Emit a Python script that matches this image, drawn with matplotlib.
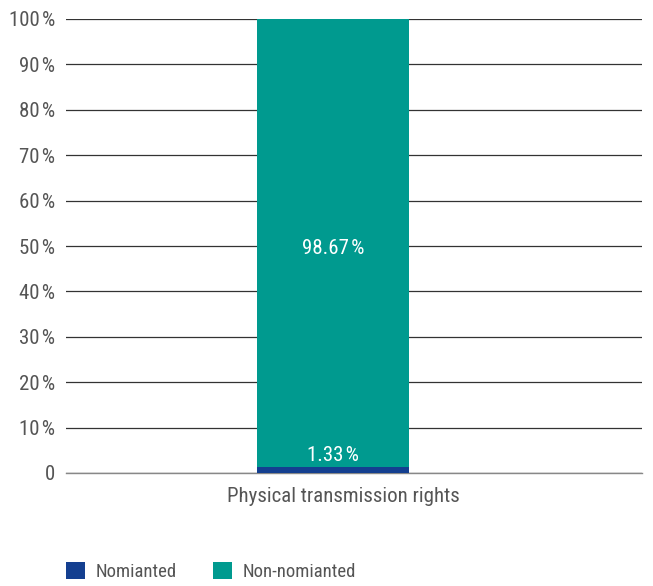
import matplotlib.pyplot as plt
import matplotlib.transforms as mtransforms

plt.rcParams['font.family'] = ['Roboto Condensed', 'Roboto', 'DejaVu Sans']

# data
categories = ["Physical transmission rights"]
nominated = [1.33]
non_nominated = [98.67]
series_names = ["Nomianted", "Non-nomianted"]
colors = ["#143f90", "#009a8f"]
yticks = [0, 10, 20, 30, 40, 50, 60, 70, 80, 90, 100]
ytick_labels = ["0"] + [f"{v}\u200a%" for v in yticks[1:]]

fig = plt.figure(figsize=(6.53, 5.86), dpi=100)
ax = fig.add_axes([66 / 653, 113 / 586, 576 / 653, 454 / 586])

x = [0]
bw = 0.264
ax.bar(x, nominated, width=bw, color=colors[0], label=series_names[0], zorder=3)
ax.bar(x, non_nominated, width=bw, bottom=nominated, color=colors[1],
       label=series_names[1], zorder=3)

fs = 15
ax.text(0, nominated[0] + 3.0, f"{nominated[0]:.2f}\u200a%", ha="center",
        va="center_baseline", color="white", fontsize=fs)
ax.text(0, (nominated[0] + non_nominated[0]) / 2, f"{non_nominated[0]:.2f}\u200a%",
        ha="center", va="center_baseline", color="white", fontsize=fs)

ax.set_xlim(-0.4635, 0.5365)
ax.set_ylim(0, 100)
ax.set_yticks(yticks)
ax.set_yticklabels(ytick_labels)
ax.set_xticks(x)
ax.set_xticklabels(categories)
ax.tick_params(axis="y", length=0, pad=8, labelsize=fs, labelcolor="#555555")
ax.tick_params(axis="x", length=0, pad=10, labelsize=fs, labelcolor="#555555")

# category label sits a bit right of the bar centre in the original
shift = mtransforms.ScaledTranslation(10 / 100, 0, fig.dpi_scale_trans)
for lbl in ax.get_xticklabels():
    lbl.set_transform(lbl.get_transform() + shift)

ax.yaxis.grid(True, color="#333333", linewidth=0.9, zorder=0)
for s in ["top", "right", "left"]:
    ax.spines[s].set_visible(False)
ax.spines["bottom"].set_color("#888888")
ax.spines["bottom"].set_linewidth(1.0)

ax.legend(loc="upper left", bbox_to_anchor=(-0.013, -0.18), ncol=2, frameon=False,
          fontsize=13.5, labelcolor="#555555", handlelength=1.0, handleheight=1.0,
          handletextpad=0.6, columnspacing=1.9, borderaxespad=0)

plt.savefig("out.png", dpi=100)
